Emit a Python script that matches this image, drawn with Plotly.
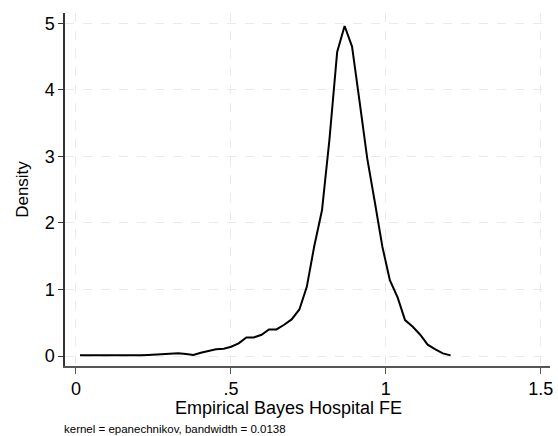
import plotly.graph_objects as go

x_vals = [0.013, 0.037, 0.062, 0.086, 0.111, 0.135, 0.159, 0.184, 0.208, 0.233,
          0.257, 0.281, 0.306, 0.330, 0.355, 0.379, 0.403, 0.428, 0.452, 0.477,
          0.501, 0.525, 0.550, 0.574, 0.599, 0.623, 0.647, 0.672, 0.696, 0.721,
          0.745, 0.769, 0.794, 0.818, 0.843, 0.867, 0.891, 0.916, 0.940, 0.965,
          0.989, 1.013, 1.038, 1.062, 1.087, 1.111, 1.135, 1.160, 1.184, 1.209]
density = [0.01, 0.01, 0.005, 0.01, 0.01, 0.005, 0.0, 0.005, 0.01, 0.015,
           0.02, 0.025, 0.035, 0.04, 0.03, 0.015, 0.05, 0.08, 0.10, 0.11,
           0.14, 0.19, 0.28, 0.28, 0.32, 0.40, 0.40, 0.47, 0.55, 0.70,
           1.04, 1.65, 2.19, 3.25, 4.57, 4.96, 4.65, 3.80, 2.97, 2.30,
           1.64, 1.14, 0.88, 0.54, 0.44, 0.32, 0.17, 0.10, 0.04, 0.01]

x_ticks = [0, 0.5, 1, 1.5]
x_tick_labels = ["0", ".5", "1", "1.5"]
y_ticks = [0, 1, 2, 3, 4, 5]
y_tick_labels = ["0", "1", "2", "3", "4", "5"]

FONT = "Liberation Sans, Arial, sans-serif"

fig = go.Figure()
fig.add_trace(go.Scatter(x=x_vals, y=density, mode="lines",
                         line=dict(color="black", width=2), showlegend=False,
                         hoverinfo="skip"))

grid = "#eaeaea"
fig.update_layout(
    width=558, height=436,
    margin=dict(l=65, r=5, t=13, b=70),
    paper_bgcolor="white", plot_bgcolor="white",
    font=dict(family=FONT, color="black"),
    xaxis=dict(range=[-0.0353, 1.5298], tickvals=x_ticks, ticktext=x_tick_labels,
               showgrid=True, gridcolor=grid, griddash="dash", gridwidth=1,
               zeroline=False, showline=True, linecolor="#555555", linewidth=1.5,
               ticks="outside", ticklen=6, tickcolor="#555555",
               tickfont=dict(size=18, family=FONT, color="black")),
    yaxis=dict(range=[-0.150, 5.155], tickvals=y_ticks, ticktext=y_tick_labels,
               showgrid=True, gridcolor=grid, griddash="dash", gridwidth=1,
               zeroline=False, showline=True, linecolor="#333333", linewidth=1.5,
               ticks="outside", ticklen=5, tickcolor="#333333",
               tickfont=dict(size=18, family=FONT, color="black"),
               title=dict(text="Density", standoff=12,
                          font=dict(size=17, family=FONT, color="black"))),
    annotations=[
        dict(text="Empirical Bayes Hospital FE",
             xref="paper", yref="paper", x=0.461, y=-0.085,
             xanchor="center", yanchor="top", showarrow=False,
             font=dict(size=18, family=FONT, color="black")),
        dict(text="kernel = epanechnikov, bandwidth = 0.0138",
             xref="paper", yref="paper", x=-0.004, y=-0.197,
             xanchor="left", yanchor="bottom", showarrow=False, borderpad=0,
             font=dict(size=11.5, family=FONT, color="black")),
    ],
)

fig.write_html("out.html")
